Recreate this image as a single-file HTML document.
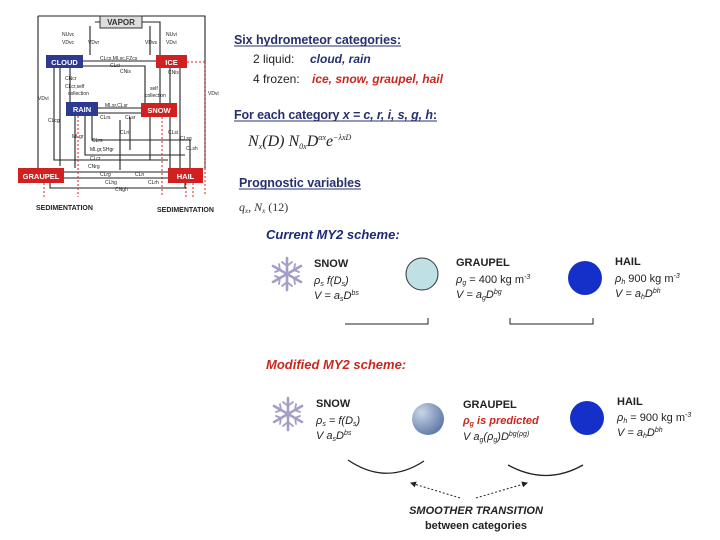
<!DOCTYPE html>
<html><head><meta charset="utf-8"><style>
body{margin:0;background:#fff;}
svg{display:block;font-family:"Liberation Sans",sans-serif;}
.n{fill:#27306e;font-weight:bold;}
</style></head><body>
<svg width="720" height="540" viewBox="0 0 720 540" xmlns="http://www.w3.org/2000/svg">
<defs>
<radialGradient id="gg" cx="0.3" cy="0.3" r="0.8"><stop offset="0" stop-color="#c8d6e6"/><stop offset="1" stop-color="#5a74a4"/></radialGradient>
<marker id="ar" markerWidth="6" markerHeight="6" refX="5" refY="3" orient="auto"><path d="M0,0L6,3L0,6z" fill="#222"/></marker>
<g id="flake" stroke="#a59cc8" stroke-width="2.6" stroke-linecap="round">
<line x1="0" y1="-16" x2="0" y2="16"/><line x1="-14" y1="-8" x2="14" y2="8"/><line x1="-14" y1="8" x2="14" y2="-8"/>
<path d="M-5,-12L0,-8L5,-12M-5,12L0,8L5,12M-12,-2L-7,-4L-8,-10M12,2L7,4L8,10M12,-2L7,-4L8,-10M-12,2L-7,4L-8,10" fill="none" stroke-width="1.8"/>
</g>
</defs>

<!-- Left diagram -->
<g stroke="#222" stroke-width="1.1" fill="none">
<path d="M38,16H205V170"/><path d="M38,16V168"/>
<path d="M95,22H100M142,22H160V56"/>
<path d="M90,26V55M150,26V55"/>
<path d="M83,61H156M83,66H145V103"/>
<path d="M70,68V102M60,68V166M54,68V160H168"/>
<path d="M160,68V103M170,68V168M180,68V168"/>
<path d="M98,108H141M98,113H141"/>
<path d="M75,116V168M92,116V140H190V168"/>
<path d="M85,116V155H185"/>
<path d="M150,117V160M130,117V150"/>
<path d="M64,172H168M64,178H168M50,183V188H185V183"/>
<path d="M120,120V170"/>
</g>
<g stroke="#d22" stroke-width="1" stroke-dasharray="2,2" fill="none">
<path d="M187,62H205V195"/><path d="M44,183V197"/><path d="M78,116V197"/><path d="M162,117V197"/><path d="M186,183V197"/><path d="M193,183V197"/>
</g>
<rect x="100" y="16" width="42" height="12" fill="#ddd" stroke="#333"/>
<text x="121" y="25" font-size="8" font-weight="bold" text-anchor="middle" fill="#333">VAPOR</text>
<rect x="46" y="55" width="37" height="13" fill="#2e3a90"/><text x="64.5" y="65" font-size="7.5" font-weight="bold" fill="#fff" text-anchor="middle">CLOUD</text>
<rect x="156" y="55" width="31" height="13" fill="#d02020"/><text x="171.5" y="65" font-size="7.5" font-weight="bold" fill="#fff" text-anchor="middle">ICE</text>
<rect x="66" y="102" width="32" height="14" fill="#2e3a90"/><text x="82" y="112" font-size="7.5" font-weight="bold" fill="#fff" text-anchor="middle">RAIN</text>
<rect x="141" y="103" width="36" height="14" fill="#d02020"/><text x="159" y="113" font-size="7.5" font-weight="bold" fill="#fff" text-anchor="middle">SNOW</text>
<rect x="18" y="168" width="46" height="15" fill="#d02020"/><text x="41" y="179" font-size="7.5" font-weight="bold" fill="#fff" text-anchor="middle">GRAUPEL</text>
<rect x="168" y="168" width="35" height="15" fill="#d02020"/><text x="185.5" y="179" font-size="7.5" font-weight="bold" fill="#fff" text-anchor="middle">HAIL</text>
<g font-size="5" fill="#222">
<text x="62" y="36">NUvc</text><text x="62" y="44">VDvc</text><text x="88" y="44">VDvr</text>
<text x="166" y="36">NUvi</text><text x="166" y="44">VDvi</text><text x="145" y="44">VDvs</text>
<text x="100" y="60">CLcs,MLsc,FZcs</text><text x="110" y="67">CLci</text><text x="120" y="73">CNis</text>
<text x="65" y="80">CNcr</text><text x="65" y="88">CLcr,self</text><text x="68" y="95">collection</text>
<text x="168" y="74">CNis</text><text x="150" y="90">self</text><text x="145" y="97">collection</text>
<text x="105" y="107">MLsr,CLsr</text><text x="100" y="119">CLrs</text><text x="125" y="119">CLsr</text>
<text x="120" y="134">CLri</text><text x="168" y="134">CLsi</text>
<text x="92" y="142">CLrs</text><text x="90" y="151">MLgr,SHgr</text><text x="38" y="100">VDvi</text>
<text x="48" y="122">CLcg</text><text x="72" y="138">MLgr</text><text x="180" y="140">CLsg</text><text x="186" y="150">CLsh</text>
<text x="90" y="160">CLcr</text><text x="88" y="168">CNrg</text>
<text x="100" y="176">CLrg</text><text x="135" y="176">CLri</text><text x="105" y="184">CLhg</text><text x="148" y="184">CLrh</text><text x="115" y="191">CNgh</text>
<text x="208" y="95">VDvi</text>
</g>
<g font-size="7" font-weight="bold" fill="#222"><text x="36" y="210">SEDIMENTATION</text><text x="157" y="212">SEDIMENTATION</text></g>

<!-- Right text -->
<text x="234" y="44" font-size="12.5" class="n" textLength="167">Six hydrometeor categories:</text>
<line x1="234" y1="46" x2="401" y2="46" stroke="#27306e"/>
<text x="253" y="63" font-size="12" fill="#222">2 liquid:</text>
<text x="310" y="63" font-size="12" font-weight="bold" font-style="italic" fill="#27306e">cloud, rain</text>
<text x="253" y="83" font-size="12" fill="#222">4 frozen:</text>
<text x="312" y="83" font-size="12" font-weight="bold" font-style="italic" fill="#c8281e">ice, snow, graupel, hail</text>
<text x="234" y="119" font-size="12.5" class="n" textLength="203">For each category <tspan font-style="italic">x = c, r, i, s, g, h</tspan>:</text>
<line x1="234" y1="121" x2="437" y2="121" stroke="#27306e"/>
<text x="248" y="146" font-size="16" font-family="Liberation Serif" font-style="italic" fill="#222">N<tspan font-size="8" dy="3">x</tspan><tspan dy="-3">(D)   N</tspan><tspan font-size="8" dy="3">0x</tspan><tspan dy="-3">D</tspan><tspan font-size="8" dy="-6">αx</tspan><tspan dy="6">e</tspan><tspan font-size="8" dy="-6">−λxD</tspan></text>
<text x="239" y="187" font-size="12.5" class="n" textLength="122">Prognostic variables</text>
<line x1="239" y1="189" x2="361" y2="189" stroke="#27306e"/>
<text x="239" y="211" font-size="12" font-family="Liberation Serif" font-style="italic" fill="#333">q<tspan font-size="7" dy="2">x</tspan><tspan dy="-2">, N</tspan><tspan font-size="7" dy="2">x</tspan><tspan dy="-2" font-style="normal">   (12)</tspan></text>

<text x="266" y="239" font-size="13" font-weight="bold" font-style="italic" fill="#1c2a78">Current MY2 scheme:</text>
<use href="#flake" x="287" y="274"/>
<g font-size="11" fill="#222">
<text x="314" y="267" font-weight="bold">SNOW</text>
<text x="314" y="284" font-style="italic">ρ<tspan font-size="7" dy="2">s</tspan><tspan dy="-2">  f(D</tspan><tspan font-size="7" dy="2">s</tspan><tspan dy="-2">)</tspan></text>
<text x="314" y="299" font-style="italic">V = a<tspan font-size="7" dy="2">s</tspan><tspan dy="-2">D</tspan><tspan font-size="7" dy="-4">bs</tspan></text>
<text x="456" y="266" font-weight="bold">GRAUPEL</text>
<text x="456" y="283" font-style="italic">ρ<tspan font-size="7" dy="2">g</tspan><tspan dy="-2" font-style="normal"> = 400 kg m</tspan><tspan font-size="7" dy="-4">-3</tspan></text>
<text x="456" y="298" font-style="italic">V = a<tspan font-size="7" dy="2">g</tspan><tspan dy="-2">D</tspan><tspan font-size="7" dy="-4">bg</tspan></text>
<text x="615" y="265" font-weight="bold">HAIL</text>
<text x="615" y="282" font-style="italic">ρ<tspan font-size="7" dy="2">h</tspan><tspan dy="-2" font-style="normal">   900 kg m</tspan><tspan font-size="7" dy="-4">-3</tspan></text>
<text x="615" y="297" font-style="italic">V = a<tspan font-size="7" dy="2">h</tspan><tspan dy="-2">D</tspan><tspan font-size="7" dy="-4">bh</tspan></text>
</g>
<circle cx="422" cy="274" r="16" fill="#bfe0e4" stroke="#333"/>
<circle cx="585" cy="278" r="17" fill="#1530c8"/>
<path d="M345,324H428V318M510,318V324H593V318" stroke="#222" fill="none"/>

<text x="266" y="369" font-size="13" font-weight="bold" font-style="italic" fill="#c8281e">Modified MY2 scheme:</text>
<use href="#flake" x="288" y="414"/>
<g font-size="11" fill="#222">
<text x="316" y="407" font-weight="bold">SNOW</text>
<text x="316" y="424" font-style="italic">ρ<tspan font-size="7" dy="2">s</tspan><tspan dy="-2"> = f(D</tspan><tspan font-size="7" dy="2">s</tspan><tspan dy="-2">)</tspan></text>
<text x="316" y="439" font-style="italic">V    a<tspan font-size="7" dy="2">s</tspan><tspan dy="-2">D</tspan><tspan font-size="7" dy="-4">bs</tspan></text>
<text x="463" y="408" font-weight="bold">GRAUPEL</text>
<text x="463" y="424" font-style="italic" font-weight="bold" fill="#c8281e">ρ<tspan font-size="7" dy="2">g</tspan><tspan dy="-2"> is predicted</tspan></text>
<text x="463" y="440" font-style="italic">V    a<tspan font-size="7" dy="2">g</tspan><tspan dy="-2">(ρ</tspan><tspan font-size="7" dy="2">g</tspan><tspan dy="-2">)D</tspan><tspan font-size="7" dy="-4">bg(ρg)</tspan></text>
<text x="617" y="405" font-weight="bold">HAIL</text>
<text x="617" y="421" font-style="italic">ρ<tspan font-size="7" dy="2">h</tspan><tspan dy="-2" font-style="normal"> = 900 kg m</tspan><tspan font-size="7" dy="-4">-3</tspan></text>
<text x="617" y="436" font-style="italic">V = a<tspan font-size="7" dy="2">h</tspan><tspan dy="-2">D</tspan><tspan font-size="7" dy="-4">bh</tspan></text>
</g>
<circle cx="428" cy="419" r="16" fill="url(#gg)"/>
<circle cx="587" cy="418" r="17" fill="#1530c8"/>
<path d="M348,460Q386,486 424,461M508,465Q546,486 583,465" stroke="#222" stroke-width="1.3" fill="none"/>
<path d="M460,498L411,483" stroke="#222" stroke-dasharray="2,2" marker-end="url(#ar)"/>
<path d="M476,498L527,483" stroke="#222" stroke-dasharray="2,2" marker-end="url(#ar)"/>
<text x="476" y="514" font-size="11" font-weight="bold" font-style="italic" fill="#222" text-anchor="middle">SMOOTHER TRANSITION</text>
<text x="476" y="529" font-size="11" font-weight="bold" fill="#222" text-anchor="middle">between categories</text>
</svg>
</body></html>
